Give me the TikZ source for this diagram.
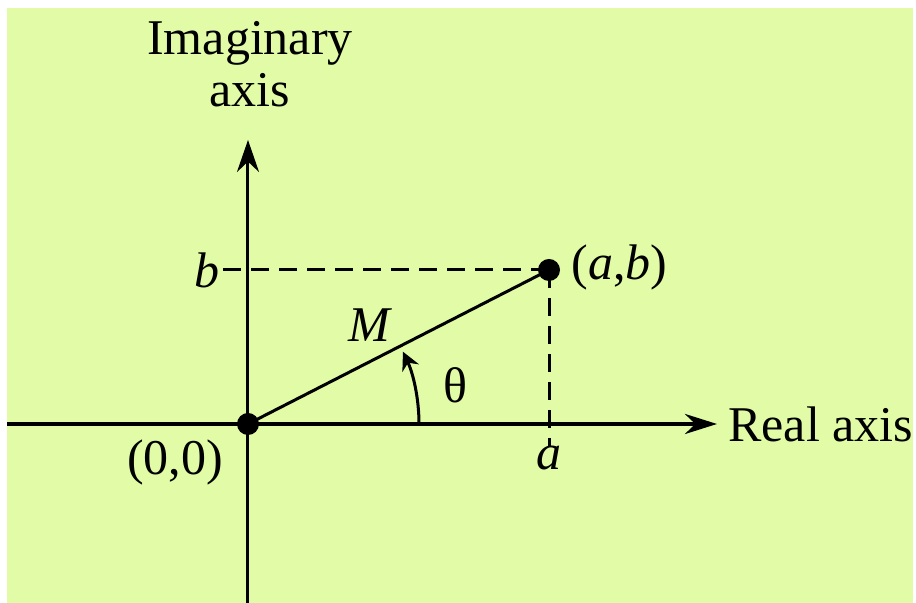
\documentclass[tikz,border=0pt]{standalone}
\usepackage{fontspec}
\setmainfont{Liberation Serif}
\usepackage{xcolor}
\usetikzlibrary{calc,arrows.meta}
\definecolor{bgreen}{RGB}{225,251,166}

\begin{document}
\begin{tikzpicture}[x=0.5pt,y=0.5pt,every node/.style={inner sep=0pt,font=\rmfamily\fontsize{25}{26}\selectfont}, dot/.style={circle,fill=black,minimum size=11pt}]
	\useasboundingbox(-248,-179)rectangle(668,424);
	\fill[bgreen](-241,-179)rectangle(665,416);
	\node(o)at(0,0)[dot]{};
	\node(p)at(301,154)[dot]{};
	\coordinate(xl)at(-241,0);
	\coordinate(xr)at(469,0);
	\coordinate(yb)at(0,-179);
	\coordinate(yt)at(0,284);
	\node(b)at(-28,154)[anchor=east]{\textit{b}};
	\node(a)at(301,-22)[anchor=north]{\textit{a}};
	\node(ab)at(323,157)[anchor=west]{(\textit{a},\textit{b})};
	\node(oo)at(-73,-38){(0,0)};
	\node(m)at(122,99){\textit{M}};
	\node(th)at(207,39){θ};
	\node(re)at(480,0)[anchor=west]{Real axis};
	\node(im)at(2,360)[align=center]{Imaginary\\axis};
	\draw[-{Stealth[length=16pt,width=10pt]},line width=2pt](xl)--(xr);
	\draw[-{Stealth[length=16pt,width=11pt]},line width=1.5pt](yb)--(yt);
	\draw[line width=1.5pt](o.center)--(p.center);
	\draw[dashed,dash pattern=on 9pt off 5pt,line width=1.5pt](p.center)--(b.east);
	\draw[dashed,dash pattern=on 9pt off 5pt,line width=1.5pt](p.center)--(a.north);
	\draw[-{Stealth[length=9pt,width=9pt]},line width=1.5pt]($(o)+(171,0)$)arc(0:25:171);
\end{tikzpicture}
\end{document}
